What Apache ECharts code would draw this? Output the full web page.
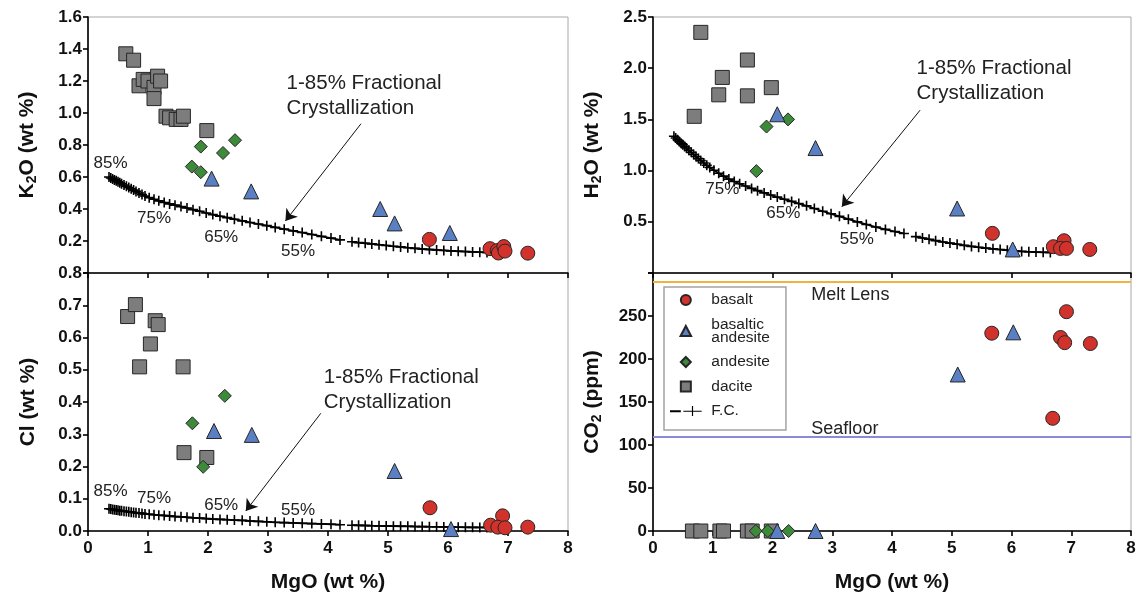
<!DOCTYPE html>
<html><head><meta charset="utf-8">
<script src="https://cdn.jsdelivr.net/npm/echarts@6/dist/echarts.min.js"></script>
<style>html,body{margin:0;padding:0;background:#fff}#c{width:1139px;height:598px}</style>
</head><body><div id="c"></div>
<script>
// ---------- DATA ----------
const X_RANGE = [0, 8];
const K2O_RANGE = [0, 1.6, 0.2];
const H2O_RANGE = [0, 2.5, 0.5];
const CL_RANGE = [0, 0.8, 0.1];
const CO2_RANGE = [0, 300, 50];

// Fractional crystallization model curve (MgO positions of the + marks)
const FC_MGO_A = [0.35,0.38,0.41,0.44,0.47,0.50,0.53,0.56,0.60,0.64,0.68,0.72,0.76,0.80,0.85,0.90,0.95,1.02,1.10,1.18,1.27,1.36,1.45,1.55,1.65,1.75,1.86,1.97,2.08,2.20,2.32,2.44,2.57,2.70,2.84,2.98,3.12,3.27,3.42,3.57,3.73,3.89,4.05,4.20];
const FC_MGO_B = [4.40,4.51,4.62,4.73,4.85,4.97,5.09,5.21,5.33,5.45,5.57,5.69,5.81,5.93,6.05,6.17,6.29,6.41,6.53,6.65];
const FC_K2O_A = [0.600,0.594,0.588,0.582,0.576,0.570,0.564,0.558,0.550,0.542,0.534,0.526,0.518,0.510,0.500,0.490,0.481,0.471,0.461,0.451,0.441,0.432,0.424,0.415,0.406,0.396,0.386,0.375,0.365,0.355,0.346,0.336,0.326,0.316,0.306,0.296,0.285,0.274,0.263,0.253,0.241,0.229,0.218,0.207];
const FC_K2O_B = [0.195,0.190,0.186,0.182,0.177,0.172,0.167,0.163,0.158,0.154,0.150,0.147,0.144,0.141,0.138,0.136,0.134,0.132,0.130,0.128];
const FC_H2O_A = [1.335,1.318,1.301,1.285,1.268,1.252,1.236,1.220,1.199,1.178,1.157,1.137,1.117,1.097,1.074,1.052,1.031,1.004,0.974,0.946,0.917,0.893,0.871,0.849,0.826,0.804,0.782,0.761,0.741,0.720,0.699,0.678,0.656,0.630,0.603,0.578,0.553,0.526,0.499,0.474,0.449,0.426,0.405,0.386];
const FC_H2O_B = [0.355,0.342,0.329,0.316,0.303,0.292,0.281,0.270,0.260,0.251,0.243,0.236,0.229,0.222,0.216,0.211,0.207,0.204,0.202,0.200];
const FC_CL_A = [0.069,0.068,0.067,0.066,0.065,0.064,0.063,0.0625,0.0615,0.0605,0.0595,0.0585,0.0575,0.0565,0.0555,0.0545,0.053,0.052,0.0505,0.049,0.048,0.0465,0.045,0.044,0.0425,0.041,0.040,0.0385,0.037,0.036,0.035,0.034,0.033,0.031,0.030,0.0285,0.027,0.026,0.025,0.024,0.023,0.022,0.021,0.0195];
const FC_CL_B = [0.018,0.0175,0.017,0.0165,0.016,0.0155,0.015,0.0148,0.0145,0.014,0.0137,0.0133,0.013,0.0125,0.012,0.0118,0.0115,0.0113,0.011,0.011];

// Samples: [MgO, value]
const K2O_BASALT = [[5.69,0.21],[6.70,0.152],[6.82,0.14],[6.84,0.125],[6.93,0.165],[6.95,0.137],[7.33,0.124]];
const K2O_BAS_AND = [[2.06,0.59],[2.72,0.51],[4.87,0.40],[5.11,0.31],[6.03,0.25]];
const K2O_ANDESITE = [[1.88,0.79],[2.45,0.83],[2.25,0.75],[1.73,0.665],[1.88,0.63]];
const K2O_DACITE = [[0.63,1.37],[0.76,1.33],[0.85,1.17],[0.92,1.21],[1.00,1.20],[1.10,1.16],[1.10,1.09],[1.16,1.23],[1.21,1.20],[1.30,0.98],[1.36,0.97],[1.47,0.96],[1.55,0.96],[1.59,0.98],[1.98,0.89]];

const H2O_BASALT = [[5.68,0.387],[6.70,0.257],[6.88,0.315],[6.82,0.24],[6.92,0.24],[7.31,0.23]];
const H2O_BAS_AND = [[2.08,1.55],[2.72,1.22],[5.09,0.63],[6.02,0.23]];
const H2O_ANDESITE = [[1.90,1.43],[2.26,1.50],[1.73,0.995]];
const H2O_DACITE = [[0.80,2.35],[0.69,1.53],[1.16,1.91],[1.10,1.74],[1.58,2.08],[1.58,1.73],[1.98,1.81]];

const CL_BASALT = [[5.70,0.072],[6.91,0.047],[6.71,0.018],[6.83,0.012],[6.95,0.010],[7.33,0.012]];
const CL_BAS_AND = [[2.10,0.31],[2.73,0.298],[5.11,0.186],[6.05,0.006]];
const CL_ANDESITE = [[2.28,0.419],[1.74,0.334],[1.92,0.199]];
const CL_DACITE = [[0.66,0.665],[0.79,0.702],[1.12,0.652],[1.17,0.64],[1.04,0.58],[0.86,0.509],[1.585,0.509],[1.60,0.243],[1.98,0.228]];

const CO2_BASALT = [[5.67,230],[6.92,255],[6.82,225],[6.89,219],[7.32,218],[6.69,131]];
const CO2_BAS_AND = [[6.03,231],[5.10,182],[2.08,0],[2.72,0]];
const CO2_ANDESITE = [[1.72,0],[1.92,0],[2.27,0]];
const CO2_DACITE = [[0.66,0],[0.80,0],[1.12,0],[1.18,0],[1.58,0],[1.66,0],[1.98,0]];

const MELT_LENS_CO2 = 290;
const SEAFLOOR_CO2 = 110;
const FC_PCT = ['85%','75%','65%','55%'];

// ---------- STYLE ----------
const FONT = "'Liberation Sans', Arial, Helvetica, sans-serif";
const PLUS = 'path://M4.2,0H5.8V10H4.2ZM0,4.2H10V5.8H0Z';
const ROCK = {
  'basalt': {symbol:'circle', size:14, color:'#d1332c'},
  'basaltic andesite': {symbol:'triangle', size:15, color:'#5a7fc2'},
  'andesite': {symbol:'diamond', size:13, color:'#3c8a3a'},
  'dacite': {symbol:'rect', size:14, color:'#7d7d7d'}
};
const GRIDS = [
  {left:88, top:17, width:480, height:256},
  {left:653, top:17, width:478, height:256},
  {left:88, top:273, width:480, height:258},
  {left:653, top:273, width:478, height:258}
];

function pairs(xs, ys){ return xs.map((x,i)=>[x, ys[i]]); }

function rockSeries(name, data, gi, extra){
  const r = ROCK[name];
  return Object.assign({
    type:'scatter', name, data, xAxisIndex:gi, yAxisIndex:gi,
    symbol:r.symbol, symbolSize:r.size, clip:false,
    itemStyle:{color:r.color, borderColor:'#262626', borderWidth:1, opacity:1},
    emphasis:{disabled:true}, z:3
  }, extra||{});
}

const lbl = (name, coord, size, extra) => Object.assign({
  name, coord, symbol:'circle', symbolSize:1, itemStyle:{color:'rgba(0,0,0,0)'},
  label:{show:true, position:'inside', formatter:'{b}', color:'#222', fontFamily:FONT, fontSize:size}
}, extra||{});

const annot = (coord) => lbl('1-85% Fractional\nCrystallization', coord, 20,
  {label:{show:true, position:'inside', formatter:'{b}', color:'#222', fontFamily:FONT, fontSize:20.5, lineHeight:25, align:'left', verticalAlign:'middle'}});

function fcSeries(gi, xsA, ysA, xsB, ysB, marks, arrow){
  const base = {
    type:'line', name:'F.C.', xAxisIndex:gi, yAxisIndex:gi,
    symbol:PLUS, symbolSize:10, showSymbol:true, showAllSymbol:true,
    lineStyle:{color:'#000', width:1.8}, itemStyle:{color:'#000'},
    emphasis:{disabled:true}, z:2, clip:false
  };
  return [
    Object.assign({}, base, {
      data: pairs(xsA, ysA),
      markPoint:{silent:true, data: marks},
      markLine:{silent:true, symbol:['none','arrow'], symbolSize:11, label:{show:false},
        lineStyle:{color:'#111', width:1, type:'solid'}, emphasis:{disabled:true},
        data:[[{coord:arrow[0]},{coord:arrow[1]}]]}
    }),
    Object.assign({}, base, {data: pairs(xsB, ysB)})
  ];
}

const axisLineStyle = {color:'#000', width:1.6};
function xAx(gi, interval, labels){
  return {
    type:'value', gridIndex:gi, min:X_RANGE[0], max:X_RANGE[1], interval,
    axisLine:{show:true, onZero:false, lineStyle:axisLineStyle},
    axisTick:{show:true, inside:false, length:5, lineStyle:axisLineStyle},
    splitLine:{show:false},
    axisLabel:{show:labels, margin:9, color:'#111', fontFamily:FONT, fontSize:17, fontWeight:'bold'},
    name: labels ? 'MgO (wt %)' : '', nameLocation:'middle', nameGap:41,
    nameTextStyle:{color:'#111', fontFamily:FONT, fontSize:21, fontWeight:'bold'}
  };
}
function yAx(gi, range, name, fmt){
  return {
    type:'value', gridIndex:gi, min:range[0], max:range[1], interval:range[2],
    axisLine:{show:true, onZero:false, lineStyle:axisLineStyle},
    axisTick:{show:true, inside:false, length:5, lineStyle:axisLineStyle},
    splitLine:{show:false},
    axisLabel:{show:true, showMinLabel:true, showMaxLabel:true, margin:6, color:'#111', fontFamily:FONT, fontSize:17, fontWeight:'bold', formatter:fmt},
    name, nameLocation:'middle', nameRotate:90, nameGap:49,
    nameTextStyle:{color:'#111', fontFamily:FONT, fontSize:21, fontWeight:'bold',
      rich:{sub:{fontFamily:FONT, fontSize:14, fontWeight:'bold', color:'#111', padding:[10,0,0,0]}}}
  };
}

const series = [];
// Top-left: K2O
series.push(...fcSeries(0, FC_MGO_A, FC_K2O_A, FC_MGO_B, FC_K2O_B, [
  lbl(FC_PCT[0],[0.375,0.688],17), lbl(FC_PCT[1],[1.10,0.342],17), lbl(FC_PCT[2],[2.22,0.226],17), lbl(FC_PCT[3],[3.50,0.135],17),
  annot([3.31,1.11])
], [[4.55,0.933],[3.29,0.325]]));
series.push(rockSeries('dacite', K2O_DACITE, 0), rockSeries('andesite', K2O_ANDESITE, 0),
            rockSeries('basaltic andesite', K2O_BAS_AND, 0), rockSeries('basalt', K2O_BASALT, 0));
// Top-right: H2O
series.push(...fcSeries(1, FC_MGO_A, FC_H2O_A, FC_MGO_B, FC_H2O_B, [
  lbl(FC_PCT[1],[1.16,0.816],17), lbl(FC_PCT[2],[2.18,0.58],17), lbl(FC_PCT[3],[3.41,0.33],17),
  annot([4.41,1.88])
], [[4.47,1.59],[3.16,0.647]]));
series.push(rockSeries('dacite', H2O_DACITE, 1), rockSeries('andesite', H2O_ANDESITE, 1),
            rockSeries('basaltic andesite', H2O_BAS_AND, 1), rockSeries('basalt', H2O_BASALT, 1));
// Bottom-left: Cl
series.push(...fcSeries(2, FC_MGO_A, FC_CL_A, FC_MGO_B, FC_CL_B, [
  lbl(FC_PCT[0],[0.375,0.122],17), lbl(FC_PCT[1],[1.10,0.10],17), lbl(FC_PCT[2],[2.22,0.08],17), lbl(FC_PCT[3],[3.50,0.065],17),
  annot([3.93,0.439])
], [[3.88,0.365],[2.63,0.062]]));
series.push(rockSeries('dacite', CL_DACITE, 2), rockSeries('andesite', CL_ANDESITE, 2),
            rockSeries('basaltic andesite', CL_BAS_AND, 2), rockSeries('basalt', CL_BASALT, 2));
// Bottom-right: CO2
series.push(rockSeries('dacite', CO2_DACITE, 3), rockSeries('andesite', CO2_ANDESITE, 3),
            rockSeries('basaltic andesite', CO2_BAS_AND, 3),
            rockSeries('basalt', CO2_BASALT, 3, {
              markLine:{silent:true, symbol:['none','none'], label:{show:false}, emphasis:{disabled:true}, z:1,
                data:[{yAxis:MELT_LENS_CO2, lineStyle:{color:'#f2b33d', width:2, type:'solid'}},
                      {yAxis:SEAFLOOR_CO2, lineStyle:{color:'#8a8ad6', width:2, type:'solid'}}]},
              markPoint:{silent:true, data:[
                lbl('Melt Lens',[2.65,274],18,{label:{show:true, position:'inside', formatter:'{b}', color:'#222', fontFamily:FONT, fontSize:18, align:'left'}}),
                lbl('Seafloor',[2.65,118],18,{label:{show:true, position:'inside', formatter:'{b}', color:'#222', fontFamily:FONT, fontSize:18, align:'left'}})
              ]}
            }));

const fmt1 = v => Math.abs(v) < 1e-9 ? '' : v.toFixed(1);
const option = {
  animation:false,
  backgroundColor:'#fff',
  grid: GRIDS.map(g => Object.assign({show:true, borderColor:'#a8a8a8', borderWidth:1, backgroundColor:'transparent'}, g)),
  xAxis:[xAx(0,1,false), xAx(1,2,false), xAx(2,1,true), xAx(3,1,true)],
  yAxis:[
    yAx(0, K2O_RANGE, 'K{sub|2}O (wt %)', fmt1),
    yAx(1, H2O_RANGE, 'H{sub|2}O (wt %)', fmt1),
    yAx(2, CL_RANGE, 'Cl (wt %)', v => v.toFixed(1)),
    yAx(3, CO2_RANGE, 'CO{sub|2} (ppm)', v => v >= 299 ? '' : String(Math.round(v)))
  ],
  legend:{
    left:664, top:287, orient:'vertical', selectedMode:false, symbolKeepAspect:true,
    itemWidth:41, itemHeight:10, itemGap:8.5, padding:[5,16,11,6],
    borderColor:'#a3a3a3', borderWidth:1.5, backgroundColor:'#fff', z:10,
    textStyle:{fontFamily:FONT, fontSize:15.5, color:'#222', lineHeight:13},
    formatter: n => n === 'basaltic andesite' ? 'basaltic\nandesite' : n,
    data:[
      {name:'basalt', icon:'circle'},
      {name:'basaltic andesite', icon:'path://M5,0L10,9.5L0,9.5Z'},
      {name:'andesite', icon:'path://M5,0L10,5L5,10L0,5Z'},
      {name:'dacite', icon:'path://M0,0H10V10H0Z'},
      {name:'F.C.', icon:'path://M0,6H13V8.5H0ZM16,6.6H38V7.9H16ZM26.3,1H27.7V13H26.3Z'}
    ]
  },
  series
};
const chart = echarts.init(document.getElementById('c'), null, {renderer:'canvas'});
chart.setOption(option);
</script></body></html>
